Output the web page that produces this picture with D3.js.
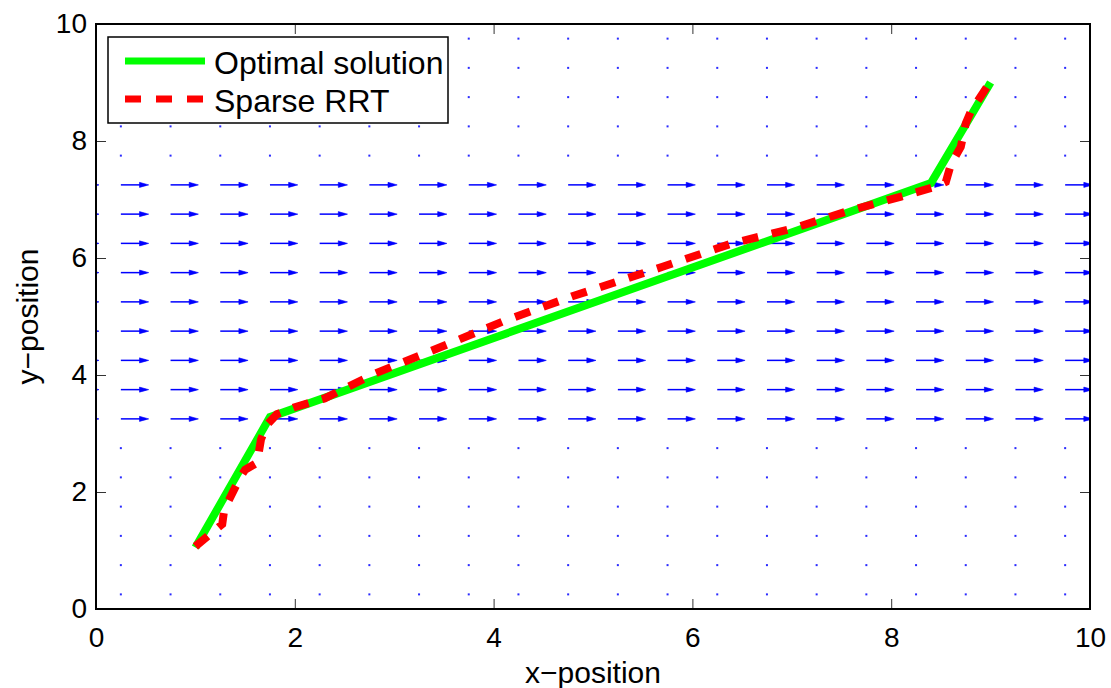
<!DOCTYPE html>
<html>
<head>
<meta charset="utf-8">
<script src="https://cdn.jsdelivr.net/npm/d3@7"></script>
<style>
  body { margin: 0; background: #fff; }
  svg { font-family: "Liberation Sans", Arial, Helvetica, sans-serif; }
</style>
</head>
<body>
<div id="chart"></div>
<script>
// optimal path (green)
const optX = [1.0, 1.75, 8.4, 9.0];
const optY = [1.05, 3.28, 7.28, 9.0];

// sparse RRT path (red dashed)
const rrtX = [1.0, 1.22, 1.27, 1.29, 1.45, 1.5, 1.62, 1.66, 1.72, 1.82, 2.0, 2.3, 2.8, 3.5, 4.1, 4.8, 5.7, 6.4, 7.0, 7.6, 8.1, 8.45, 8.55, 8.6, 8.7, 8.75, 8.8, 8.98];
const rrtY = [1.07, 1.38, 1.45, 1.7, 2.25, 2.38, 2.5, 2.9, 3.15, 3.33, 3.45, 3.6, 4.02, 4.5, 4.92, 5.35, 5.85, 6.25, 6.5, 6.82, 7.05, 7.22, 7.3, 7.6, 7.9, 8.3, 8.5, 8.97];

// flow field grid (quiver)
const fieldX = [-0.25, 0.25, 0.75, 1.25, 1.75, 2.25, 2.75, 3.25, 3.75, 4.25, 4.75, 5.25, 5.75, 6.25, 6.75, 7.25, 7.75, 8.25, 8.75, 9.25, 9.75];
const fieldY = [0.25, 0.75, 1.25, 1.75, 2.25, 2.75, 3.25, 3.75, 4.25, 4.75, 5.25, 5.75, 6.25, 6.75, 7.25, 7.75, 8.25, 8.75, 9.25, 9.75];
const fieldU = [0, 0, 0, 0, 0, 0, 0.28, 0.28, 0.28, 0.28, 0.28, 0.28, 0.28, 0.28, 0.28, 0, 0, 0, 0, 0];

const xTicks = [0, 2, 4, 6, 8, 10];
const yTicks = [0, 2, 4, 6, 8, 10];

const W = 1111, H = 688;
const margin = {left: 96, top: 24, right: 21, bottom: 79};
const iw = W - margin.left - margin.right;
const ih = H - margin.top - margin.bottom;

const svg = d3.select("#chart").append("svg")
    .attr("width", W)
    .attr("height", H);

const x = d3.scaleLinear().domain([0, 10]).range([0, iw]);
const y = d3.scaleLinear().domain([0, 10]).range([ih, 0]);

svg.append("defs").append("clipPath")
    .attr("id", "plotclip")
    .append("rect")
    .attr("width", iw)
    .attr("height", ih);

const g = svg.append("g").attr("transform", `translate(${margin.left},${margin.top})`);

// quiver field
const field = g.append("g").attr("clip-path", "url(#plotclip)");
const vectors = [];
fieldY.forEach((yy, j) => {
    fieldX.forEach(xx => vectors.push({x: xx, y: yy, u: fieldU[j]}));
});
const moving = vectors.filter(d => d.u > 0);

field.selectAll("path.shaft")
    .data(moving)
    .enter().append("path")
    .attr("class", "shaft")
    .attr("d", d => `M${x(d.x)},${y(d.y)}L${x(d.x + d.u) - 3},${y(d.y)}`)
    .attr("stroke", "#0000ff")
    .attr("stroke-width", 1.5);

field.selectAll("path.head")
    .data(moving)
    .enter().append("path")
    .attr("class", "head")
    .attr("d", d => {
        const x1 = x(d.x + d.u), y0 = y(d.y);
        const len = x1 - x(d.x);
        const hl = len * 0.33, hw = len * 0.09;
        return `M${x1},${y0}L${x1 - hl},${y0 - hw}L${x1 - hl},${y0 + hw}Z`;
    })
    .attr("fill", "#0000ff")
    .attr("stroke", "#0000ff")
    .attr("stroke-width", 0.6)
    .attr("stroke-linejoin", "miter");

field.selectAll("rect.dot")
    .data(vectors.filter(d => d.u === 0))
    .enter().append("rect")
    .attr("class", "dot")
    .attr("x", d => x(d.x) - 1)
    .attr("y", d => y(d.y) - 1)
    .attr("width", 2)
    .attr("height", 2)
    .attr("fill", "#2a2aff");

// paths
const line = d3.line().x(d => x(d[0])).y(d => y(d[1]));

g.append("path")
    .datum(optX.map((v, i) => [v, optY[i]]))
    .attr("d", line)
    .attr("fill", "none")
    .attr("stroke", "#00ff00")
    .attr("stroke-width", 8)
    .attr("stroke-linejoin", "miter");

g.append("path")
    .datum(rrtX.map((v, i) => [v, rrtY[i]]))
    .attr("d", line)
    .attr("fill", "none")
    .attr("stroke", "#ff0000")
    .attr("stroke-width", 8)
    .attr("stroke-dasharray", "16,14");

// axes with inward ticks on all four sides
const tickLen = 10;
const styleAxis = sel => {
    sel.select(".domain").remove();
    sel.selectAll(".tick line").attr("stroke", "#333").attr("stroke-width", 1);
    sel.selectAll(".tick text")
        .attr("fill", "#000")
        .style("font-size", "28px")
        .style("font-family", '"Liberation Sans", Arial, sans-serif');
};

g.append("g")
    .attr("transform", `translate(0,${ih})`)
    .call(d3.axisBottom(x).tickValues(xTicks).tickSizeInner(-tickLen).tickSizeOuter(0).tickPadding(18))
    .call(styleAxis);

g.append("g")
    .call(d3.axisLeft(y).tickValues(yTicks).tickSizeInner(-tickLen).tickSizeOuter(0).tickPadding(9))
    .call(styleAxis);

g.append("g")
    .call(d3.axisTop(x).tickValues(xTicks).tickSizeInner(-tickLen).tickSizeOuter(0).tickFormat(""))
    .call(styleAxis);

g.append("g")
    .attr("transform", `translate(${iw},0)`)
    .call(d3.axisRight(y).tickValues(yTicks).tickSizeInner(-tickLen).tickSizeOuter(0).tickFormat(""))
    .call(styleAxis);

g.append("rect")
    .attr("width", iw)
    .attr("height", ih)
    .attr("fill", "none")
    .attr("stroke", "#000")
    .attr("stroke-width", 2);

// axis labels
svg.append("text")
    .attr("x", margin.left + iw / 2)
    .attr("y", 683)
    .attr("text-anchor", "middle")
    .style("font-size", "30px")
    .text("x\u2212position");

svg.append("text")
    .attr("transform", `translate(38,${margin.top + ih / 2}) rotate(-90)`)
    .attr("text-anchor", "middle")
    .style("font-size", "30px")
    .text("y\u2212position");

// legend
const legend = svg.append("g");
legend.append("rect")
    .attr("x", 108).attr("y", 37)
    .attr("width", 340).attr("height", 86)
    .attr("fill", "#fff")
    .attr("stroke", "#000")
    .attr("stroke-width", 1.5);

const legendItems = [
    {label: "Optimal solution", color: "#00ff00", dash: null, y: 61},
    {label: "Sparse RRT", color: "#ff0000", dash: "16,15", y: 99}
];

legendItems.forEach(d => {
    legend.append("line")
        .attr("x1", 125).attr("x2", 205)
        .attr("y1", d.y).attr("y2", d.y)
        .attr("stroke", d.color)
        .attr("stroke-width", 7)
        .attr("stroke-dasharray", d.dash);
    legend.append("text")
        .attr("x", 214)
        .attr("y", d.y + 13)
        .style("font-size", "32px")
        .text(d.label);
});
</script>
</body>
</html>
